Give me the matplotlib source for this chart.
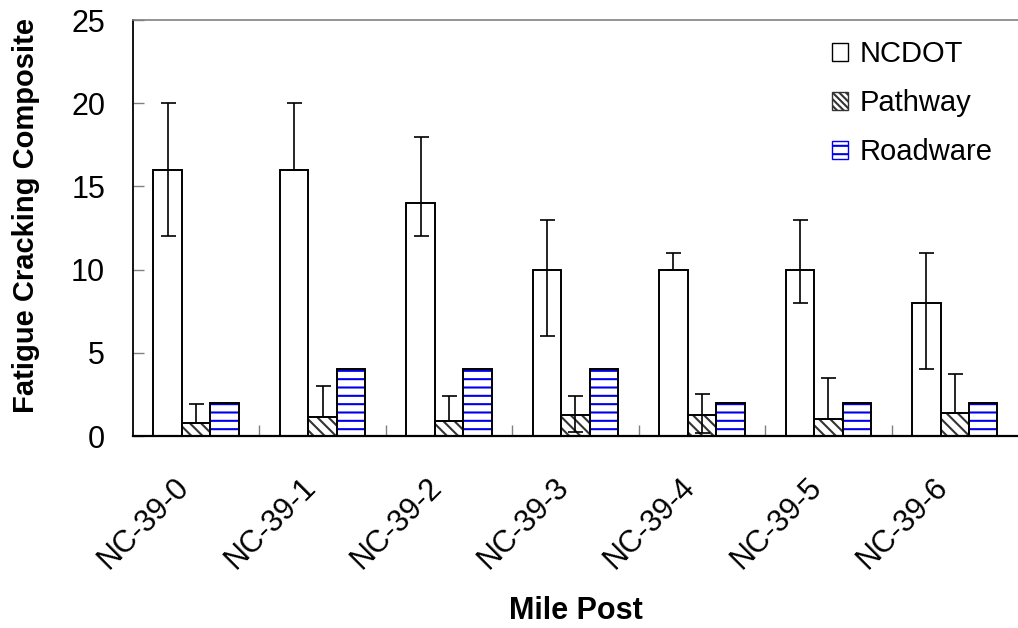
import numpy as np
import matplotlib
matplotlib.use('Agg')
import matplotlib.pyplot as plt
import matplotlib.transforms as mtrans
from matplotlib.patches import Patch

plt.rcParams['font.family'] = ['Liberation Sans', 'DejaVu Sans']
plt.rcParams['hatch.linewidth'] = 1.5

posts = ['NC-39-0', 'NC-39-1', 'NC-39-2', 'NC-39-3', 'NC-39-4', 'NC-39-5', 'NC-39-6']

ncdot = [16, 16, 14, 10, 10, 10, 8]
ncdot_lo = [4, 0, 2, 4, 0, 2, 4]
ncdot_hi = [4, 4, 4, 3, 1, 3, 3]

pathway = [0.76, 1.16, 0.88, 1.24, 1.26, 1.0, 1.36]
pathway_lo = [0, 0, 0, 1.0, 1.06, 0, 0]
pathway_hi = [1.14, 1.84, 1.52, 1.16, 1.24, 2.5, 2.34]

roadware = [2, 4, 4, 4, 2, 2, 2]

x = np.arange(len(posts))
w = 0.225

fig = plt.figure(figsize=(10.18, 6.28), dpi=100)
ax = fig.add_axes([0.1306, 0.3057, 0.8694, 0.6623])

ek = dict(ecolor='black', elinewidth=1.2, capsize=5.4, capthick=1.2)

# NCDOT - plain white
ax.bar(x - w, ncdot, w, color='white', edgecolor='black', linewidth=1.4,
       yerr=[ncdot_lo, ncdot_hi], error_kw=ek, zorder=2)

# Pathway - diagonal hatch
ax.bar(x, pathway, w, color='white', edgecolor='#333333', hatch='\\\\\\',
       linewidth=0, zorder=2)
ax.bar(x, pathway, w, fill=False, edgecolor='black', linewidth=1.4,
       yerr=[pathway_lo, pathway_hi], error_kw=ek, zorder=3)

# Roadware - blue horizontal lines
ax.bar(x + w, roadware, w, color='white', edgecolor='#0000ee', hatch='--',
       linewidth=0, zorder=2)
ax.bar(x + w, roadware, w, fill=False, edgecolor='black', linewidth=1.4, zorder=3)

# legend
handles = [Patch(facecolor='white', edgecolor='black', linewidth=1.0, label='NCDOT'),
           Patch(facecolor='white', edgecolor='#333333', hatch='\\\\\\\\\\', linewidth=1.0, label='Pathway'),
           Patch(facecolor='white', edgecolor='#0000ee', hatch='--', linewidth=1.0, label='Roadware')]
ax.legend(handles=handles, loc='upper right', frameon=False, fontsize=21,
          handlelength=0.55, handleheight=0.55, handletextpad=0.4,
          labelspacing=0.72, borderaxespad=0.0, bbox_to_anchor=(0.985, 0.98))

ax.set_xlim(-0.5, len(posts) - 0.5)
ax.set_ylim(0, 25)
ax.set_yticks(range(0, 26, 5))
ax.set_xticks(x)
ax.set_xticklabels(posts, rotation=45, ha='right', rotation_mode='anchor', fontsize=22)
ax.set_xticks(np.arange(0.5, len(posts) - 0.5, 1), minor=True)
ax.tick_params(axis='x', which='major', length=0, pad=22)
ax.tick_params(axis='x', which='minor', direction='in', length=8, color='gray', width=1)
ax.tick_params(axis='y', direction='in', length=8, color='gray', width=1, labelsize=22, pad=20)

# shift rotated labels a bit left/down like the original
off = mtrans.ScaledTranslation(-0.22, -0.06, fig.dpi_scale_trans)
for lab in ax.get_xticklabels():
    lab.set_transform(lab.get_transform() + off)

ax.spines['right'].set_visible(False)
ax.spines['top'].set_color('gray')
ax.spines['top'].set_linewidth(1.2)
ax.spines['left'].set_linewidth(1.3)
ax.spines['bottom'].set_linewidth(1.6)

ax.set_ylabel('Fatigue Cracking Composite', fontsize=21, fontweight='bold')
ax.yaxis.set_label_coords(-0.105, 0.53)
ax.set_xlabel('Mile Post', fontsize=22, fontweight='bold')
ax.xaxis.set_label_coords(0.5, -0.385)

plt.savefig('out.png', dpi=100)
